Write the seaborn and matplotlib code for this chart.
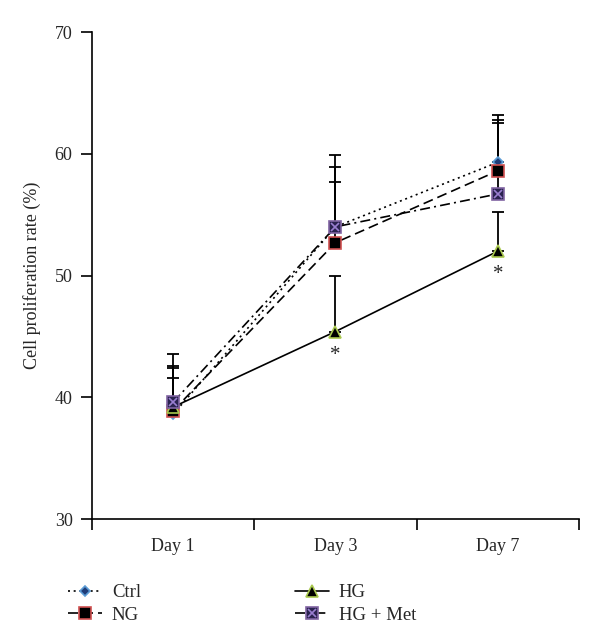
import numpy as np
import pandas as pd
import matplotlib
matplotlib.use("Agg")
import matplotlib.pyplot as plt
from matplotlib.legend_handler import HandlerTuple
import seaborn as sns

# data
days = ["Day 1", "Day 3", "Day 7"]
ctrl = [38.6, 54.0, 59.3]
ng = [38.9, 52.7, 58.6]
hg = [39.2, 45.4, 52.0]
hg_met = [39.6, 54.0, 56.7]
ctrl_err = [3.8, 5.9, 3.9]
ng_err = [3.7, 5.0, 4.2]
hg_err = [2.4, 4.6, 3.2]
hg_met_err = [3.95, 4.9, 5.8]
groups = ["Ctrl", "NG", "HG", "HG + Met"]
star_days = ["Day 3", "Day 7"]

sns.set_style("ticks")
plt.rcParams["font.family"] = ["Liberation Serif", "DejaVu Serif"]

fig = plt.figure(figsize=(6, 6.43), dpi=100)
ax = fig.add_axes([0.1533, 0.1928, 0.8117, 0.7574])

styles = {
    "Ctrl": dict(ls=(0, (1.2, 2.2)), marker="D", ms=5, mfc="#1f3c78", mec="#5b9bd5"),
    "NG": dict(ls=(0, (6, 3)), marker="s", ms=8, mfc="black", mec="#d05050"),
    "HG": dict(ls="-", marker="^", ms=8, mfc="black", mec="#a9c84e"),
    "HG + Met": dict(ls=(0, (6, 2.5, 1.2, 2.5)), marker="s", ms=9, mfc="#2b2350", mec="#8064a2"),
}
values = {"Ctrl": ctrl, "NG": ng, "HG": hg, "HG + Met": hg_met}
errs = {"Ctrl": ctrl_err, "NG": ng_err, "HG": hg_err, "HG + Met": hg_met_err}

xpos = np.arange(len(days))
handles = []
for g in groups:
    st = styles[g]
    ax.errorbar(xpos, values[g], yerr=[np.zeros(3), errs[g]], fmt="none",
                ecolor="black", elinewidth=1.3, capsize=4, capthick=1.3, zorder=2)
    sns.lineplot(x=xpos, y=values[g], ax=ax, color="black", linewidth=1.2,
                 linestyle=st["ls"], marker=st["marker"], markersize=st["ms"],
                 markerfacecolor=st["mfc"], markeredgecolor=st["mec"],
                 markeredgewidth=1.2, sort=False, zorder=3)
    h = ax.lines[-1]
    if g == "HG + Met":
        ax.plot(xpos, values[g], ls="none", marker="x", ms=6, mec="#9a7fd0",
                mew=1.2, zorder=4)
        hx = ax.lines[-1]
        handles.append((h, hx))
    else:
        handles.append(h)

# significance marks under HG
for d in star_days:
    i = days.index(d)
    ax.annotate("*", (i, hg[i]), xytext=(0, -17), textcoords="offset points",
                ha="center", va="center", fontsize=15)

ax.set_xlim(-0.5, 2.5)
ax.set_ylim(30, 70)
ax.set_yticks([30, 40, 50, 60, 70])
ax.set_xticks(xpos)
ax.set_xticklabels(days)
ax.set_xticks([-0.5, 0.5, 1.5, 2.5], minor=True)
ax.tick_params(axis="x", which="major", length=0, pad=14, labelsize=13)
ax.tick_params(axis="x", which="minor", length=8, width=1.2, color="black")
ax.tick_params(axis="y", length=8, width=1.2, labelsize=13, pad=6, color="black")
ax.set_ylabel("Cell proliferation rate (%)", fontsize=13, labelpad=10)
for s in ["top", "right"]:
    ax.spines[s].set_visible(False)
for s in ["left", "bottom"]:
    ax.spines[s].set_linewidth(1.2)
    ax.spines[s].set_color("black")

fig.legend(handles, groups, ncol=2, loc="upper left", bbox_to_anchor=(0.085, 0.118),
           frameon=False, fontsize=13.5, columnspacing=8.2, handlelength=1.8,
           handletextpad=0.55, labelspacing=0.3,
           handler_map={tuple: HandlerTuple(ndivide=1, pad=0)})

fig.savefig("out.png", dpi=100)
